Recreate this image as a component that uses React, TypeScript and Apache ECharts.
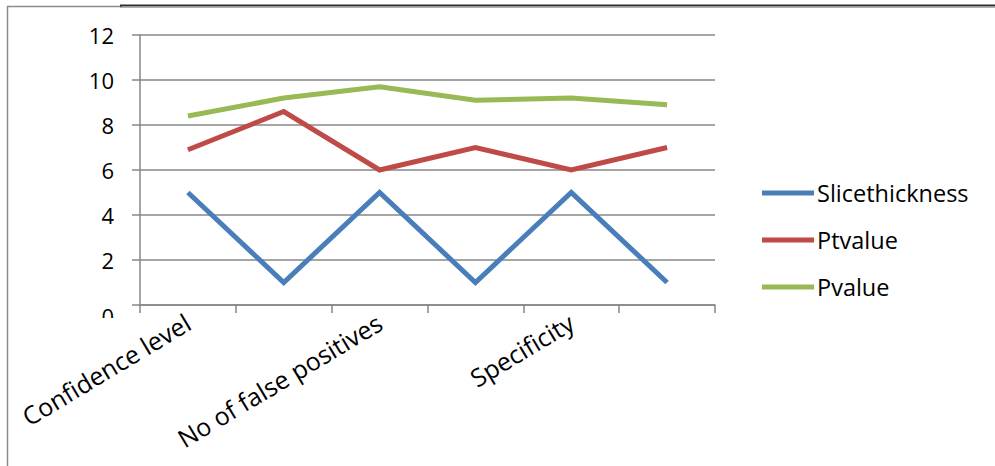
import React, { useEffect, useRef } from "react";
import * as echarts from "echarts";

// Category names (every other slot is left unlabelled on the axis)
const categories: string[] = ["Confidence level", "", "No of false positives", "", "Specificity", ""];

const sliceThickness: number[] = [5, 1, 5, 1, 5, 1];
const ptValue: number[] = [6.9, 8.6, 6.0, 7.0, 6.0, 7.0];
const pValue: number[] = [8.4, 9.2, 9.7, 9.1, 9.2, 8.9];

const seriesNames: string[] = ["Slicethickness", "Ptvalue", "Pvalue"];
const seriesColors: string[] = ["#4a7ebb", "#be4b48", "#98b954"];

const yMin = 0;
const yMax = 12;
const yStep = 2;

const FONT = "'Open Sans', 'Liberation Sans', sans-serif";
const AXIS_GRAY = "#878787";

export default function App() {
  const ref = useRef<HTMLDivElement>(null);

  useEffect(() => {
    if (!ref.current) return;
    const chart = echarts.init(ref.current, undefined, { renderer: "svg" });
    const values = [sliceThickness, ptValue, pValue];

    chart.setOption({
      animation: false,
      backgroundColor: "#ffffff",
      textStyle: { fontFamily: FONT },
      grid: { left: 140, right: 280, top: 35, bottom: 161, containLabel: false },
      legend: {
        orient: "vertical",
        left: 757,
        top: 176,
        itemWidth: 52,
        itemHeight: 5,
        itemGap: 23,
        icon: "rect",
        textStyle: { fontFamily: FONT, fontSize: 23.5, color: "#000000", padding: [0, 0, 0, -2] },
        data: seriesNames.map((n, i) => ({ name: n, itemStyle: { color: seriesColors[i] } })),
      },
      xAxis: {
        type: "category",
        data: categories,
        boundaryGap: true,
        axisLine: { show: true, lineStyle: { color: AXIS_GRAY, width: 1.5 } },
        axisTick: { show: true, length: 8, alignWithLabel: false, interval: 0, lineStyle: { color: AXIS_GRAY, width: 1.5 } },
        axisLabel: {
          interval: 0,
          rotate: 31,
          margin: 15,
          fontFamily: FONT,
          fontSize: 25,
          color: "#000000",
        },
        splitLine: { show: false },
      },
      yAxis: {
        type: "value",
        min: yMin,
        max: yMax,
        interval: yStep,
        axisLine: { show: true, lineStyle: { color: AXIS_GRAY, width: 1.5 } },
        axisTick: { show: true, length: 8, lineStyle: { color: AXIS_GRAY, width: 1.5 } },
        splitLine: { show: true, lineStyle: { color: AXIS_GRAY, width: 1.5 } },
        axisLabel: {
          margin: 26,
          fontFamily: FONT,
          fontSize: 22,
          color: "#000000",
          formatter: (v: number) => (v === 0 ? "{z|0}" : String(v)),
          rich: {
            z: { fontFamily: FONT, fontSize: 22, color: "#000000", padding: [22, 0, 0, 0] },
          },
        },
      },
      series: values.map((d, i) => ({
        name: seriesNames[i],
        type: "line",
        data: d,
        showSymbol: false,
        symbol: "none",
        lineStyle: { color: seriesColors[i], width: 5, join: "miter" },
        itemStyle: { color: seriesColors[i] },
      })),
      graphic: [
        // outer frame
        { type: "line", shape: { x1: 7.5, y1: 6, x2: 7.5, y2: 466 }, style: { stroke: "#8c8c8c", lineWidth: 1.5 } },
        { type: "line", shape: { x1: 7, y1: 6.5, x2: 122, y2: 6.5 }, style: { stroke: "#8c8c8c", lineWidth: 1.5 } },
        { type: "line", shape: { x1: 120, y1: 5.5, x2: 995, y2: 5.5 }, style: { stroke: "#2e2e2e", lineWidth: 2 } },
        { type: "line", shape: { x1: 120, y1: 7.5, x2: 995, y2: 7.5 }, style: { stroke: "#b0b0b0", lineWidth: 1 } },
        // trims the bottom of the lowest value label
        { type: "rect", shape: { x: 88, y: 318, width: 40, height: 20 }, style: { fill: "#ffffff" }, z: 100 },
      ],
    });

    return () => chart.dispose();
  }, []);

  return <div ref={ref} style={{ width: 995, height: 466, position: "absolute", left: 0, top: 0 }} />;
}
